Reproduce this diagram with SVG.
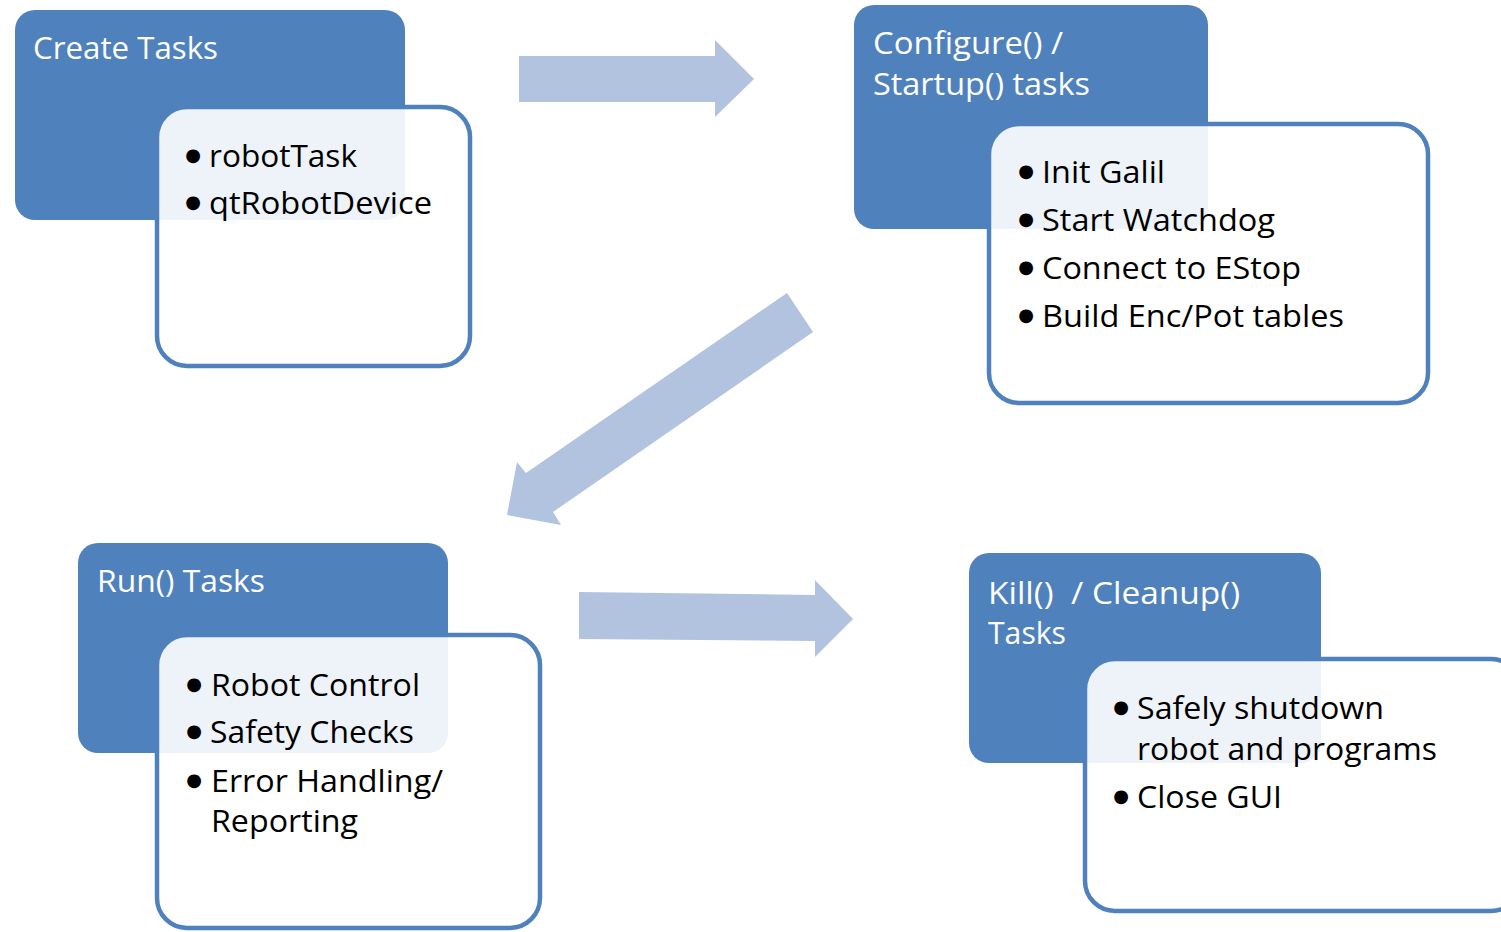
<svg xmlns="http://www.w3.org/2000/svg" width="1501" height="932" viewBox="0 0 1501 932">
<style>
.hdr{fill:#4f81bd}
.body{fill:#ffffff;fill-opacity:0.9;stroke:#4f81bd;stroke-width:4.5}
.ttl{font-family:"Open Sans","Liberation Sans",sans-serif;font-size:31px;fill:#ffffff;white-space:pre}
.itm{font-family:"Open Sans","Liberation Sans",sans-serif;font-size:31px;fill:#000000}
.bul{font-family:"DejaVu Sans",sans-serif;font-size:18px;fill:#000000;text-anchor:middle}
.arr{fill:#b1c3de}
</style>
<rect width="1501" height="932" fill="#ffffff"/>
<g id="connectors">
<polygon class="arr" points="519,56 715,56 715,40 754,79 715,117 715,102 519,102"/>
<polygon class="arr" points="787,293 813,332 553,512 561,525 507,515 517,462 526,473"/>
<polygon class="arr" points="579,592 815,595 815,580 853,619 815,657 815,641 579,639"/>
</g>
<g id="node-create">
<rect class="hdr" x="15" y="10" width="390" height="210" rx="20"/>
<text class="ttl" x="33" y="59" textLength="185" lengthAdjust="spacingAndGlyphs">Create Tasks</text>
<rect class="body" x="157" y="107" width="313" height="259" rx="30"/>
<text class="bul" x="193" y="161">●</text><text class="itm" x="209" y="167" textLength="148" lengthAdjust="spacingAndGlyphs">robotTask</text>
<text class="bul" x="193" y="208">●</text><text class="itm" x="209" y="214" textLength="223" lengthAdjust="spacingAndGlyphs">qtRobotDevice</text>
</g>
<g id="node-configure">
<rect class="hdr" x="854" y="5" width="354" height="224" rx="20"/>
<text class="ttl" x="873" y="54" textLength="190" lengthAdjust="spacingAndGlyphs">Configure() /</text>
<text class="ttl" x="873" y="95" textLength="217" lengthAdjust="spacingAndGlyphs">Startup() tasks</text>
<rect class="body" x="989" y="124" width="439" height="279" rx="30"/>
<text class="bul" x="1026" y="177">●</text><text class="itm" x="1042" y="183" textLength="123" lengthAdjust="spacingAndGlyphs">Init Galil</text>
<text class="bul" x="1026" y="225">●</text><text class="itm" x="1042" y="231" textLength="233" lengthAdjust="spacingAndGlyphs">Start Watchdog</text>
<text class="bul" x="1026" y="273">●</text><text class="itm" x="1042" y="279" textLength="259" lengthAdjust="spacingAndGlyphs">Connect to EStop</text>
<text class="bul" x="1026" y="321">●</text><text class="itm" x="1042" y="327" textLength="302" lengthAdjust="spacingAndGlyphs">Build Enc/Pot tables</text>
</g>
<g id="node-run">
<rect class="hdr" x="78" y="543" width="370" height="210" rx="20"/>
<text class="ttl" x="97" y="592" textLength="168" lengthAdjust="spacingAndGlyphs">Run() Tasks</text>
<rect class="body" x="157" y="635" width="383" height="293" rx="30"/>
<text class="bul" x="194" y="690">●</text><text class="itm" x="211" y="696" textLength="209" lengthAdjust="spacingAndGlyphs">Robot Control</text>
<text class="bul" x="194" y="737">●</text><text class="itm" x="210" y="743" textLength="204" lengthAdjust="spacingAndGlyphs">Safety Checks</text>
<text class="bul" x="194" y="786">●</text><text class="itm" x="211" y="792" textLength="232" lengthAdjust="spacingAndGlyphs">Error Handling/</text>
<text class="itm" x="211" y="832" textLength="147" lengthAdjust="spacingAndGlyphs">Reporting</text>
</g>
<g id="node-kill">
<rect class="hdr" x="969" y="553" width="352" height="210" rx="20"/>
<text class="ttl" x="988" y="604" textLength="252" lengthAdjust="spacingAndGlyphs">Kill()  / Cleanup()</text>
<text class="ttl" x="988" y="644" textLength="78" lengthAdjust="spacingAndGlyphs">Tasks</text>
<rect class="body" x="1085" y="659" width="436" height="252" rx="30"/>
<text class="bul" x="1121" y="713">●</text><text class="itm" x="1137" y="719" textLength="247" lengthAdjust="spacingAndGlyphs">Safely shutdown</text>
<text class="itm" x="1137" y="760" textLength="300" lengthAdjust="spacingAndGlyphs">robot and programs</text>
<text class="bul" x="1121" y="802">●</text><text class="itm" x="1137" y="808" textLength="145" lengthAdjust="spacingAndGlyphs">Close GUI</text>
</g>
</svg>
